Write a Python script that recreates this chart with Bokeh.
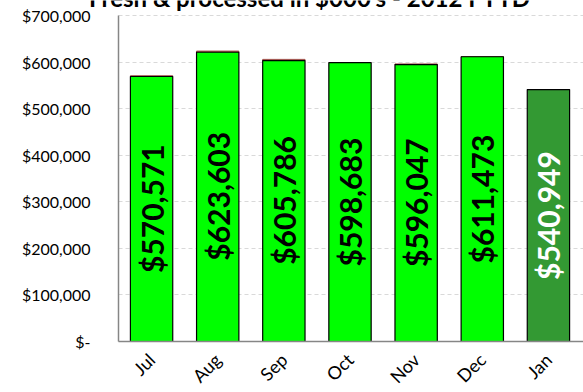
from math import pi
from bokeh.plotting import figure
from bokeh.models import ColumnDataSource, FixedTicker, Range1d, Label
from bokeh.core.properties import value
from bokeh.embed import file_html
from bokeh.resources import INLINE

months = ["Jul", "Aug", "Sep", "Oct", "Nov", "Dec", "Jan"]
totals = [570571, 623603, 605786, 598683, 596047, 611473, 540949]
processed = [1500, 2500, 2500, 0, 1500, 0, 0]
fill_colors = ["#00FF00", "#00FF00", "#00FF00", "#00FF00", "#00FF00", "#00FF00", "#339933"]
label_colors = ["black", "black", "black", "black", "black", "black", "white"]
y_ticks = [0, 100000, 200000, 300000, 400000, 500000, 600000, 700000]
y_tick_labels = ["$-", "$100,000", "$200,000", "$300,000", "$400,000", "$500,000", "$600,000", "$700,000"]
title_text = "Fresh & processed in $000's - 2012 FYTD"

xs = list(range(len(months)))
fresh_top = [t - p for t, p in zip(totals, processed)]
src = ColumnDataSource(dict(
    x=xs, total=totals, fresh_top=fresh_top, fill=fill_colors, lc=label_colors,
    mid=[t / 2 for t in totals],
    txt=["${:,}".format(t) for t in totals],
))

# layout in pixels (the frame covers the whole canvas; axes are pinned inside it)
W, H = 583, 392
axis_left_px, plot_right_px = 118, 581
zero_px, top_px = 341, 15

unit_px = (plot_right_px - axis_left_px) / len(months)
x_lo, x_hi = -0.5, len(months) - 0.5
x_start = x_lo - axis_left_px / unit_px
x_end = x_start + W / unit_px

y_max = y_ticks[-1]
per_px = y_max / (zero_px - top_px)
y_start = -(H - zero_px) * per_px
y_end = y_max + top_px * per_px

p = figure(width=W, height=H, output_backend="svg", toolbar_location=None,
           x_range=Range1d(x_start, x_end), y_range=Range1d(y_start, y_end),
           min_border_left=0, min_border_right=0, min_border_top=0, min_border_bottom=0)
p.outline_line_color = None
p.background_fill_color = "white"
p.border_fill_color = "white"

# grid
p.xgrid.grid_line_color = None
grid = p.ygrid[0]
grid.ticker = FixedTicker(ticks=y_ticks)
if "cross_bounds" in grid.properties():
    grid.grid_line_color = "#D9D9D9"
    grid.grid_line_dash = "4 3"
    grid.grid_line_width = 1
    grid.cross_bounds = (x_lo, x_end)
else:
    grid.grid_line_color = None
    p.segment(x0=[x_lo] * len(y_ticks), x1=[x_end] * len(y_ticks), y0=y_ticks, y1=y_ticks,
              line_color="#D9D9D9", line_dash="4 3", line_width=1)

p.vbar(x="x", top="total", bottom="fresh_top", width=0.64, source=src,
       fill_color="#A0504A", line_color="#A0504A", line_width=1)
p.vbar(x="x", top="fresh_top", bottom=0, width=0.64, source=src,
       fill_color="fill", line_color="black", line_width=1.2)
p.text(x="x", y="mid", text="txt", source=src, angle=pi / 2,
       text_align="center", text_baseline="middle",
       text_font=value("Lato"), text_font_style="bold", text_font_size="30px",
       text_color="lc")

# x axis, pinned at zero
p.xaxis.fixed_location = 0
p.xaxis.ticker = FixedTicker(ticks=xs)
p.xaxis.bounds = (x_lo, x_end)
p.xaxis.major_label_overrides = {i: m for i, m in enumerate(months)}
p.xaxis.major_label_orientation = pi / 4
p.xaxis.major_label_text_font = "Lato"
p.xaxis.major_label_text_font_size = "18px"
p.xaxis.major_label_text_color = "black"
p.xaxis.major_tick_line_color = None
p.xaxis.minor_tick_line_color = None
p.xaxis.axis_line_color = "#868686"
p.xaxis.axis_line_width = 1.5
p.xaxis.major_label_standoff = 9

# y axis, pinned at the left end of the categories
p.yaxis.fixed_location = x_lo
p.yaxis.ticker = FixedTicker(ticks=y_ticks)
p.yaxis.bounds = (0, y_max)
p.yaxis.major_label_overrides = {t: l for t, l in zip(y_ticks, y_tick_labels)}
p.yaxis.major_label_text_font = "Lato"
p.yaxis.major_label_text_font_size = "16px"
p.yaxis.major_label_text_color = "black"
p.yaxis.major_tick_line_color = None
p.yaxis.minor_tick_line_color = None
p.yaxis.axis_line_color = "#868686"
p.yaxis.axis_line_width = 1.5
p.yaxis.major_label_standoff = 22

title = Label(x=309, y=y_end + 3 * per_px, x_units="screen", y_units="data", text=title_text,
              text_align="center", text_baseline="alphabetic",
              text_font="Lato", text_font_style="bold", text_font_size="24px",
              text_color="black")
p.add_layout(title)

open("out.html", "w").write(file_html(p, INLINE))
